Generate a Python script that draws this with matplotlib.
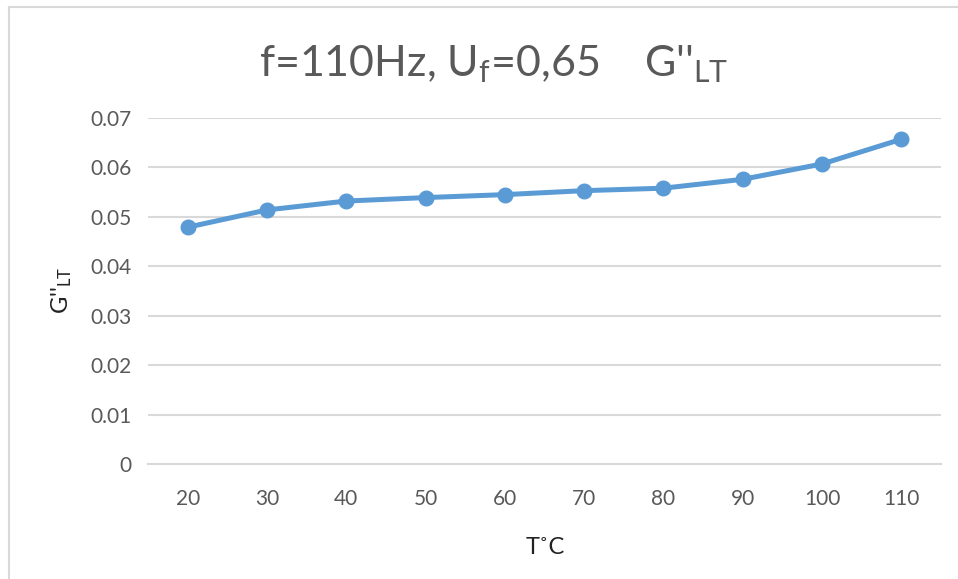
import matplotlib.pyplot as plt
from matplotlib.lines import Line2D

# data
temps = ["20", "30", "40", "50", "60", "70", "80", "90", "100", "110"]
g_lt = [0.0479, 0.0514, 0.0532, 0.0539, 0.0545, 0.0553, 0.0558, 0.0576, 0.0607, 0.0657]
y_ticks = [0, 0.01, 0.02, 0.03, 0.04, 0.05, 0.06, 0.07]
y_tick_labels = ["0", "0.01", "0.02", "0.03", "0.04", "0.05", "0.06", "0.07"]

plt.rcParams["font.family"] = ["Lato", "DejaVu Sans"]
plt.rcParams["mathtext.fontset"] = "custom"
plt.rcParams["mathtext.rm"] = "Lato"
plt.rcParams["mathtext.it"] = "Lato"

text_color = "#595959"
grid_color = "#d9d9d9"
line_color = "#5b9bd5"

fig = plt.figure(figsize=(9.58, 5.79), dpi=100)
ax = fig.add_axes([148 / 958, 1 - 464 / 579, 793 / 958, 346 / 579])

x = list(range(len(temps)))
ax.plot(x, g_lt, color=line_color, linewidth=3.6, marker="o", markersize=10.5,
        markerfacecolor=line_color, markeredgecolor=line_color, zorder=3)

ax.set_xlim(-0.5, len(temps) - 0.5)
ax.set_ylim(0, 0.07)
ax.set_xticks(x)
ax.set_xticklabels(temps)
ax.set_yticks(y_ticks)
ax.set_yticklabels(y_tick_labels)

ax.grid(axis="y", color=grid_color, linewidth=1.5)
ax.set_axisbelow(True)
for side in ["top", "right", "left"]:
    ax.spines[side].set_visible(False)
ax.spines["bottom"].set_color(grid_color)
ax.spines["bottom"].set_linewidth(1.5)
ax.tick_params(axis="both", length=0, labelsize=15, colors=text_color)
ax.tick_params(axis="x", pad=18)
ax.tick_params(axis="y", pad=12)

fig.text(494 / 958, 1 - 64 / 579, "f=110Hz, U$_\\mathrm{f}$=0,65    G''$_\\mathrm{LT}$",
         ha="center", va="center", fontsize=31, color=text_color)
fig.text(545 / 958, 1 - 548 / 579, "T˚C", ha="center", va="center",
         fontsize=17, color="#222222")
fig.text(62 / 958, 1 - 290 / 579, "G''$_\\mathrm{LT}$", ha="center", va="center",
         rotation=90, fontsize=17, color="#222222")

# chart border (only top and left visible in the crop)
fig.add_artist(Line2D([9 / 958, 9 / 958], [0, 1 - 7 / 579], transform=fig.transFigure,
                      color=grid_color, linewidth=1.5))
fig.add_artist(Line2D([9 / 958, 1], [1 - 7 / 579, 1 - 7 / 579], transform=fig.transFigure,
                      color=grid_color, linewidth=1.5))

fig.savefig("out.png", dpi=100)
